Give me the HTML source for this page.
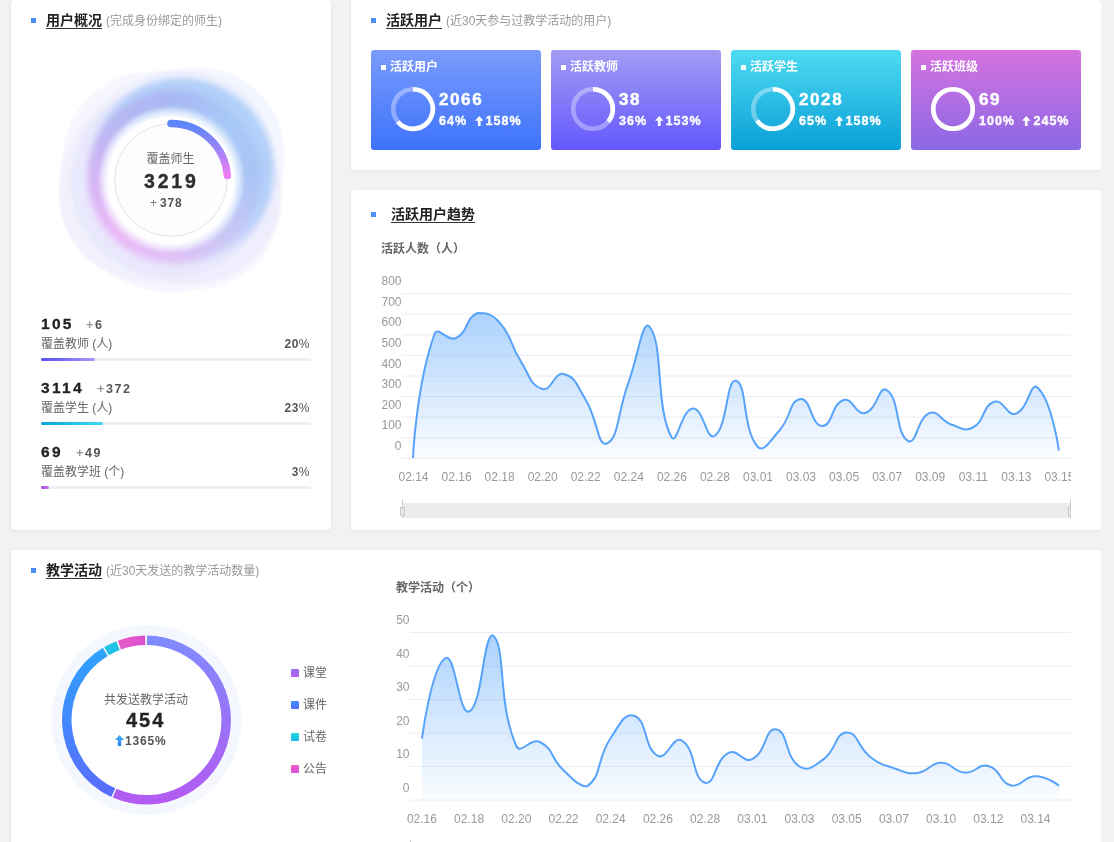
<!DOCTYPE html>
<html lang="zh-CN">
<head>
<meta charset="utf-8">
<title>数据概览</title>
<style>
*{box-sizing:border-box;margin:0;padding:0}
html,body{width:1114px;height:842px;overflow:hidden;background:#f2f2f2}
body{position:relative;font-family:"Liberation Sans","Noto Sans CJK SC",sans-serif;color:#333}
.card{position:absolute;background:#fff;border-radius:4px;box-shadow:0 1px 4px rgba(0,0,0,0.07)}
.abs{position:absolute;white-space:nowrap}
.sq{position:absolute;width:5px;height:5px;background:#4b8ef5}
.ttl{position:absolute;font-size:14px;font-weight:bold;color:#222;line-height:16px;white-space:nowrap}
.ttl b{font-weight:bold;border-bottom:1px solid #333;display:inline-block;line-height:15px;padding-bottom:0}
.ttl span{font-weight:normal;font-size:12px;color:#999;margin-left:4px}
svg text{font-family:"Liberation Sans","Noto Sans CJK SC",sans-serif}
.yl{font-size:12px;fill:#999;text-anchor:end;dominant-baseline:central}
.xl{font-size:12px;fill:#999;text-anchor:middle;dominant-baseline:central}
.num{font-family:"Liberation Sans",sans-serif;font-weight:bold}
.row .n{position:absolute;left:41px;font-size:15.5px;font-weight:bold;letter-spacing:2.3px;color:#222;line-height:16px;-webkit-text-stroke:0.3px #222}
.row .d{position:absolute;font-size:12.5px;font-weight:bold;color:#555;letter-spacing:1.6px;line-height:12px}
.row .d i{font-style:normal;font-weight:bold;color:#999}
.row .l{position:absolute;left:41px;font-size:12px;color:#666;line-height:14px}
.row .p{position:absolute;left:211px;width:99px;text-align:right;font-size:12px;font-weight:bold;color:#555;line-height:14px;letter-spacing:0.5px}
.row .p i{font-style:normal;font-weight:normal}
.row .tr{position:absolute;left:41px;width:270px;height:3px;border-radius:2px;background:#eeeef5}
.row .f{position:absolute;left:0;top:0;height:3px;border-radius:2px}
.sc{position:absolute;top:50px;width:170px;height:100px;border-radius:3px;color:#fff;overflow:hidden}
.sc .dot{position:absolute;left:10px;top:15px;width:5px;height:5px;background:#fff}
.sc .t{position:absolute;left:19px;top:10px;font-size:12px;font-weight:bold;line-height:14px}
.sc svg{position:absolute;left:0;top:0}
.sc .v{position:absolute;left:68px;top:41.8px;font-size:17px;font-weight:bold;letter-spacing:1.6px;line-height:16px;-webkit-text-stroke:0.45px #fff}
.sc .r{position:absolute;left:68px;top:65px;font-size:12.5px;font-weight:bold;letter-spacing:1px;line-height:13px;-webkit-text-stroke:0.35px #fff}
.sc .r .ar{display:inline-block;margin-left:7.5px}
.sc .r .ar svg.up{position:static;display:inline-block;vertical-align:-0.5px;margin-right:2.5px}
.lg{position:absolute;left:291px;font-size:12px;color:#666;line-height:14px}
.lg i{position:absolute;left:0;top:3px;width:8px;height:8px;border-radius:1px}
.lg span{position:absolute;left:12px;top:0;white-space:nowrap}
</style>
</head>
<body>
<div id="wrap" style="position:absolute;left:0;top:0;width:1101px;height:842px;overflow:hidden">

<!-- ========== 用户概况 ========== -->
<div class="card" style="left:11px;top:0;width:320px;height:530px"></div>
<div class="sq" style="left:31px;top:18px"></div>
<div class="ttl" style="left:46px;top:12px"><b>用户概况</b><span>(完成身份绑定的师生)</span></div>

<svg class="abs" style="left:0;top:0" width="340" height="320" viewBox="0 0 340 320">
  <defs>
    <filter id="bl4" x="-50%" y="-50%" width="200%" height="200%"><feGaussianBlur stdDeviation="3.5"/></filter>
    <filter id="bl2" x="-50%" y="-50%" width="200%" height="200%"><feGaussianBlur stdDeviation="1.5"/></filter>
    <filter id="bl1" x="-50%" y="-50%" width="200%" height="200%"><feGaussianBlur stdDeviation="1"/></filter>
    <filter id="bl3" x="-50%" y="-50%" width="200%" height="200%"><feGaussianBlur stdDeviation="3"/></filter>
    <radialGradient id="wc" cx="0.5" cy="0.5" r="0.5">
      <stop offset="0.84" stop-color="#fff" stop-opacity="1"/>
      <stop offset="1" stop-color="#fff" stop-opacity="0"/>
    </radialGradient>
    <linearGradient id="arcg" x1="0" y1="0" x2="0" y2="1">
      <stop offset="0" stop-color="#5a86f7"/>
      <stop offset="0.5" stop-color="#9b84fb"/>
      <stop offset="1" stop-color="#f07ef6"/>
    </linearGradient>
  </defs>
<g filter="url(#bl1)">
<ellipse cx="172" cy="181" rx="118" ry="100" fill="#f6f7fe" transform="rotate(45 172 181)"/>
<circle cx="171" cy="181" r="111" fill="#f5f6fe"/>
<ellipse cx="180" cy="172" rx="112" ry="96" fill="#f3f6fe" transform="rotate(-45 180 172)"/>
<ellipse cx="166" cy="176" rx="114" ry="98" fill="#f0f1fd" transform="rotate(-42 166 176)"/>
<ellipse cx="178" cy="185" rx="106" ry="96" fill="#efeefd" transform="rotate(35 178 185)"/>
<ellipse cx="170" cy="181" rx="99" ry="97" fill="#e7e6fb" opacity="0.75"/>
</g>
<g filter="url(#bl3)">
<defs><linearGradient id="bluel" x1="0.85" y1="0.1" x2="0.25" y2="0.8"><stop offset="0" stop-color="#b0d0f9" stop-opacity="1"/><stop offset="0.45" stop-color="#b0cdf8" stop-opacity="0.9"/><stop offset="1" stop-color="#b0cdf8" stop-opacity="0"/></linearGradient></defs>
<circle cx="181" cy="171" r="93" fill="url(#bluel)"/>
<g opacity="0.95"><path d="M174.00,99.00 A78,78 0 0 1 179.17,99.17" stroke="rgb(168,183,243)" stroke-width="17" fill="none"/><path d="M178.08,99.11 A78,78 0 0 1 183.24,99.55" stroke="rgb(168,184,244)" stroke-width="17" fill="none"/><path d="M182.15,99.43 A78,78 0 0 1 187.28,100.14" stroke="rgb(168,185,244)" stroke-width="17" fill="none"/><path d="M186.20,99.96 A78,78 0 0 1 191.28,100.94" stroke="rgb(168,186,244)" stroke-width="17" fill="none"/><path d="M190.22,100.70 A78,78 0 0 1 195.24,101.95" stroke="rgb(167,187,244)" stroke-width="17" fill="none"/><path d="M194.19,101.66 A78,78 0 0 1 199.14,103.16" stroke="rgb(167,189,245)" stroke-width="17" fill="none"/><path d="M198.10,102.82 A78,78 0 0 1 202.97,104.58" stroke="rgb(167,190,245)" stroke-width="17" fill="none"/><path d="M201.95,104.18 A78,78 0 0 1 206.72,106.19" stroke="rgb(167,191,246)" stroke-width="17" fill="none"/><path d="M205.73,105.74 A78,78 0 0 1 210.38,108.00" stroke="rgb(167,192,246)" stroke-width="17" fill="none"/><path d="M209.41,107.50 A78,78 0 0 1 213.94,110.00" stroke="rgb(167,193,246)" stroke-width="17" fill="none"/><path d="M213.00,109.45 A78,78 0 0 1 217.39,112.18" stroke="rgb(167,195,246)" stroke-width="17" fill="none"/><path d="M216.48,111.58 A78,78 0 0 1 220.72,114.54" stroke="rgb(166,196,247)" stroke-width="17" fill="none"/><path d="M219.85,113.90 A78,78 0 0 1 223.93,117.07" stroke="rgb(166,197,247)" stroke-width="17" fill="none"/><path d="M223.09,116.38 A78,78 0 0 1 227.00,119.77" stroke="rgb(166,198,248)" stroke-width="17" fill="none"/><path d="M226.19,119.03 A78,78 0 0 1 229.92,122.62" stroke="rgb(166,199,248)" stroke-width="17" fill="none"/><path d="M229.15,121.85 A78,78 0 0 1 232.69,125.62" stroke="rgb(166,200,248)" stroke-width="17" fill="none"/><path d="M231.97,124.81 A78,78 0 0 1 235.30,128.76" stroke="rgb(166,200,248)" stroke-width="17" fill="none"/><path d="M234.62,127.91 A78,78 0 0 1 237.74,132.04" stroke="rgb(166,199,248)" stroke-width="17" fill="none"/><path d="M237.10,131.15 A78,78 0 0 1 240.00,135.44" stroke="rgb(167,199,248)" stroke-width="17" fill="none"/><path d="M239.42,134.52 A78,78 0 0 1 242.09,138.95" stroke="rgb(167,198,247)" stroke-width="17" fill="none"/><path d="M241.55,138.00 A78,78 0 0 1 243.99,142.56" stroke="rgb(167,198,247)" stroke-width="17" fill="none"/><path d="M243.50,141.59 A78,78 0 0 1 245.69,146.27" stroke="rgb(167,198,247)" stroke-width="17" fill="none"/><path d="M245.26,145.27 A78,78 0 0 1 247.20,150.07" stroke="rgb(168,198,247)" stroke-width="17" fill="none"/><path d="M246.82,149.05 A78,78 0 0 1 248.51,153.93" stroke="rgb(168,197,247)" stroke-width="17" fill="none"/><path d="M248.18,152.90 A78,78 0 0 1 249.62,157.87" stroke="rgb(168,197,247)" stroke-width="17" fill="none"/><path d="M249.34,156.81 A78,78 0 0 1 250.51,161.85" stroke="rgb(168,196,247)" stroke-width="17" fill="none"/><path d="M250.30,160.78 A78,78 0 0 1 251.20,165.87" stroke="rgb(168,196,246)" stroke-width="17" fill="none"/><path d="M251.04,164.80 A78,78 0 0 1 251.68,169.93" stroke="rgb(168,196,246)" stroke-width="17" fill="none"/><path d="M251.57,168.85 A78,78 0 0 1 251.94,174.01" stroke="rgb(169,196,246)" stroke-width="17" fill="none"/><path d="M251.89,172.92 A78,78 0 0 1 251.99,178.09" stroke="rgb(169,195,246)" stroke-width="17" fill="none"/><path d="M252.00,177.00 A78,78 0 0 1 251.83,182.17" stroke="rgb(170,195,246)" stroke-width="17" fill="none"/><path d="M251.89,181.08 A78,78 0 0 1 251.45,186.24" stroke="rgb(172,195,246)" stroke-width="17" fill="none"/><path d="M251.57,185.15 A78,78 0 0 1 250.86,190.28" stroke="rgb(174,196,246)" stroke-width="17" fill="none"/><path d="M251.04,189.20 A78,78 0 0 1 250.06,194.28" stroke="rgb(176,196,246)" stroke-width="17" fill="none"/><path d="M250.30,193.22 A78,78 0 0 1 249.05,198.24" stroke="rgb(178,196,246)" stroke-width="17" fill="none"/><path d="M249.34,197.19 A78,78 0 0 1 247.84,202.14" stroke="rgb(180,196,246)" stroke-width="17" fill="none"/><path d="M248.18,201.10 A78,78 0 0 1 246.42,205.97" stroke="rgb(182,196,246)" stroke-width="17" fill="none"/><path d="M246.82,204.95 A78,78 0 0 1 244.81,209.72" stroke="rgb(184,196,246)" stroke-width="17" fill="none"/><path d="M245.26,208.73 A78,78 0 0 1 243.00,213.38" stroke="rgb(187,197,245)" stroke-width="17" fill="none"/><path d="M243.50,212.41 A78,78 0 0 1 241.00,216.94" stroke="rgb(189,197,245)" stroke-width="17" fill="none"/><path d="M241.55,216.00 A78,78 0 0 1 238.82,220.39" stroke="rgb(191,197,245)" stroke-width="17" fill="none"/><path d="M239.42,219.48 A78,78 0 0 1 236.46,223.72" stroke="rgb(193,197,245)" stroke-width="17" fill="none"/><path d="M237.10,222.85 A78,78 0 0 1 233.93,226.93" stroke="rgb(195,198,245)" stroke-width="17" fill="none"/><path d="M234.62,226.09 A78,78 0 0 1 231.23,230.00" stroke="rgb(197,198,245)" stroke-width="17" fill="none"/><path d="M231.97,229.19 A78,78 0 0 1 228.38,232.92" stroke="rgb(199,198,245)" stroke-width="17" fill="none"/><path d="M229.15,232.15 A78,78 0 0 1 225.38,235.69" stroke="rgb(201,198,245)" stroke-width="17" fill="none"/><path d="M226.19,234.97 A78,78 0 0 1 222.24,238.30" stroke="rgb(202,197,245)" stroke-width="17" fill="none"/><path d="M223.09,237.62 A78,78 0 0 1 218.96,240.74" stroke="rgb(204,197,245)" stroke-width="17" fill="none"/><path d="M219.85,240.10 A78,78 0 0 1 215.56,243.00" stroke="rgb(206,197,245)" stroke-width="17" fill="none"/><path d="M216.48,242.42 A78,78 0 0 1 212.05,245.09" stroke="rgb(207,196,246)" stroke-width="17" fill="none"/><path d="M213.00,244.55 A78,78 0 0 1 208.44,246.99" stroke="rgb(209,196,246)" stroke-width="17" fill="none"/><path d="M209.41,246.50 A78,78 0 0 1 204.73,248.69" stroke="rgb(210,195,246)" stroke-width="17" fill="none"/><path d="M205.73,248.26 A78,78 0 0 1 200.93,250.20" stroke="rgb(212,195,246)" stroke-width="17" fill="none"/><path d="M201.95,249.82 A78,78 0 0 1 197.07,251.51" stroke="rgb(214,195,246)" stroke-width="17" fill="none"/><path d="M198.10,251.18 A78,78 0 0 1 193.13,252.62" stroke="rgb(215,194,246)" stroke-width="17" fill="none"/><path d="M194.19,252.34 A78,78 0 0 1 189.15,253.51" stroke="rgb(217,194,246)" stroke-width="17" fill="none"/><path d="M190.22,253.30 A78,78 0 0 1 185.13,254.20" stroke="rgb(218,193,247)" stroke-width="17" fill="none"/><path d="M186.20,254.04 A78,78 0 0 1 181.07,254.68" stroke="rgb(220,193,247)" stroke-width="17" fill="none"/><path d="M182.15,254.57 A78,78 0 0 1 176.99,254.94" stroke="rgb(222,193,247)" stroke-width="17" fill="none"/><path d="M178.08,254.89 A78,78 0 0 1 172.91,254.99" stroke="rgb(223,192,247)" stroke-width="17" fill="none"/><path d="M174.00,255.00 A78,78 0 0 1 168.83,254.83" stroke="rgb(224,192,247)" stroke-width="17" fill="none"/><path d="M169.92,254.89 A78,78 0 0 1 164.76,254.45" stroke="rgb(225,191,247)" stroke-width="17" fill="none"/><path d="M165.85,254.57 A78,78 0 0 1 160.72,253.86" stroke="rgb(226,191,247)" stroke-width="17" fill="none"/><path d="M161.80,254.04 A78,78 0 0 1 156.72,253.06" stroke="rgb(227,190,247)" stroke-width="17" fill="none"/><path d="M157.78,253.30 A78,78 0 0 1 152.76,252.05" stroke="rgb(227,190,247)" stroke-width="17" fill="none"/><path d="M153.81,252.34 A78,78 0 0 1 148.86,250.84" stroke="rgb(228,189,247)" stroke-width="17" fill="none"/><path d="M149.90,251.18 A78,78 0 0 1 145.03,249.42" stroke="rgb(229,189,247)" stroke-width="17" fill="none"/><path d="M146.05,249.82 A78,78 0 0 1 141.28,247.81" stroke="rgb(230,188,247)" stroke-width="17" fill="none"/><path d="M142.27,248.26 A78,78 0 0 1 137.62,246.00" stroke="rgb(230,187,247)" stroke-width="17" fill="none"/><path d="M138.59,246.50 A78,78 0 0 1 134.06,244.00" stroke="rgb(231,187,247)" stroke-width="17" fill="none"/><path d="M135.00,244.55 A78,78 0 0 1 130.61,241.82" stroke="rgb(232,186,247)" stroke-width="17" fill="none"/><path d="M131.52,242.42 A78,78 0 0 1 127.28,239.46" stroke="rgb(232,186,247)" stroke-width="17" fill="none"/><path d="M128.15,240.10 A78,78 0 0 1 124.07,236.93" stroke="rgb(233,185,247)" stroke-width="17" fill="none"/><path d="M124.91,237.62 A78,78 0 0 1 121.00,234.23" stroke="rgb(234,185,247)" stroke-width="17" fill="none"/><path d="M121.81,234.97 A78,78 0 0 1 118.08,231.38" stroke="rgb(235,184,247)" stroke-width="17" fill="none"/><path d="M118.85,232.15 A78,78 0 0 1 115.31,228.38" stroke="rgb(234,184,247)" stroke-width="17" fill="none"/><path d="M116.03,229.19 A78,78 0 0 1 112.70,225.24" stroke="rgb(233,184,247)" stroke-width="17" fill="none"/><path d="M113.38,226.09 A78,78 0 0 1 110.26,221.96" stroke="rgb(231,183,247)" stroke-width="17" fill="none"/><path d="M110.90,222.85 A78,78 0 0 1 108.00,218.56" stroke="rgb(230,183,247)" stroke-width="17" fill="none"/><path d="M108.58,219.48 A78,78 0 0 1 105.91,215.05" stroke="rgb(228,182,246)" stroke-width="17" fill="none"/><path d="M106.45,216.00 A78,78 0 0 1 104.01,211.44" stroke="rgb(227,182,246)" stroke-width="17" fill="none"/><path d="M104.50,212.41 A78,78 0 0 1 102.31,207.73" stroke="rgb(225,182,246)" stroke-width="17" fill="none"/><path d="M102.74,208.73 A78,78 0 0 1 100.80,203.93" stroke="rgb(224,182,246)" stroke-width="17" fill="none"/><path d="M101.18,204.95 A78,78 0 0 1 99.49,200.07" stroke="rgb(222,181,246)" stroke-width="17" fill="none"/><path d="M99.82,201.10 A78,78 0 0 1 98.38,196.13" stroke="rgb(220,181,246)" stroke-width="17" fill="none"/><path d="M98.66,197.19 A78,78 0 0 1 97.49,192.15" stroke="rgb(219,180,246)" stroke-width="17" fill="none"/><path d="M97.70,193.22 A78,78 0 0 1 96.80,188.13" stroke="rgb(217,180,245)" stroke-width="17" fill="none"/><path d="M96.96,189.20 A78,78 0 0 1 96.32,184.07" stroke="rgb(216,180,245)" stroke-width="17" fill="none"/><path d="M96.43,185.15 A78,78 0 0 1 96.06,179.99" stroke="rgb(214,180,245)" stroke-width="17" fill="none"/><path d="M96.11,181.08 A78,78 0 0 1 96.01,175.91" stroke="rgb(213,179,245)" stroke-width="17" fill="none"/><path d="M96.00,177.00 A78,78 0 0 1 96.17,171.83" stroke="rgb(211,179,245)" stroke-width="17" fill="none"/><path d="M96.11,172.92 A78,78 0 0 1 96.55,167.76" stroke="rgb(209,179,245)" stroke-width="17" fill="none"/><path d="M96.43,168.85 A78,78 0 0 1 97.14,163.72" stroke="rgb(207,179,244)" stroke-width="17" fill="none"/><path d="M96.96,164.80 A78,78 0 0 1 97.94,159.72" stroke="rgb(205,179,244)" stroke-width="17" fill="none"/><path d="M97.70,160.78 A78,78 0 0 1 98.95,155.76" stroke="rgb(203,180,244)" stroke-width="17" fill="none"/><path d="M98.66,156.81 A78,78 0 0 1 100.16,151.86" stroke="rgb(201,180,244)" stroke-width="17" fill="none"/><path d="M99.82,152.90 A78,78 0 0 1 101.58,148.03" stroke="rgb(199,180,244)" stroke-width="17" fill="none"/><path d="M101.18,149.05 A78,78 0 0 1 103.19,144.28" stroke="rgb(197,180,244)" stroke-width="17" fill="none"/><path d="M102.74,145.27 A78,78 0 0 1 105.00,140.62" stroke="rgb(195,180,243)" stroke-width="17" fill="none"/><path d="M104.50,141.59 A78,78 0 0 1 107.00,137.06" stroke="rgb(193,180,243)" stroke-width="17" fill="none"/><path d="M106.45,138.00 A78,78 0 0 1 109.18,133.61" stroke="rgb(191,180,243)" stroke-width="17" fill="none"/><path d="M108.58,134.52 A78,78 0 0 1 111.54,130.28" stroke="rgb(189,181,243)" stroke-width="17" fill="none"/><path d="M110.90,131.15 A78,78 0 0 1 114.07,127.07" stroke="rgb(187,181,242)" stroke-width="17" fill="none"/><path d="M113.38,127.91 A78,78 0 0 1 116.77,124.00" stroke="rgb(185,181,242)" stroke-width="17" fill="none"/><path d="M116.03,124.81 A78,78 0 0 1 119.62,121.08" stroke="rgb(183,181,242)" stroke-width="17" fill="none"/><path d="M118.85,121.85 A78,78 0 0 1 122.62,118.31" stroke="rgb(182,181,242)" stroke-width="17" fill="none"/><path d="M121.81,119.03 A78,78 0 0 1 125.76,115.70" stroke="rgb(181,181,242)" stroke-width="17" fill="none"/><path d="M124.91,116.38 A78,78 0 0 1 129.04,113.26" stroke="rgb(180,181,242)" stroke-width="17" fill="none"/><path d="M128.15,113.90 A78,78 0 0 1 132.44,111.00" stroke="rgb(179,181,242)" stroke-width="17" fill="none"/><path d="M131.52,111.58 A78,78 0 0 1 135.95,108.91" stroke="rgb(178,181,242)" stroke-width="17" fill="none"/><path d="M135.00,109.45 A78,78 0 0 1 139.56,107.01" stroke="rgb(177,181,242)" stroke-width="17" fill="none"/><path d="M138.59,107.50 A78,78 0 0 1 143.27,105.31" stroke="rgb(176,181,242)" stroke-width="17" fill="none"/><path d="M142.27,105.74 A78,78 0 0 1 147.07,103.80" stroke="rgb(175,182,242)" stroke-width="17" fill="none"/><path d="M146.05,104.18 A78,78 0 0 1 150.93,102.49" stroke="rgb(174,182,243)" stroke-width="17" fill="none"/><path d="M149.90,102.82 A78,78 0 0 1 154.87,101.38" stroke="rgb(173,182,243)" stroke-width="17" fill="none"/><path d="M153.81,101.66 A78,78 0 0 1 158.85,100.49" stroke="rgb(172,182,243)" stroke-width="17" fill="none"/><path d="M157.78,100.70 A78,78 0 0 1 162.87,99.80" stroke="rgb(171,182,243)" stroke-width="17" fill="none"/><path d="M161.80,99.96 A78,78 0 0 1 166.93,99.32" stroke="rgb(170,182,243)" stroke-width="17" fill="none"/><path d="M165.85,99.43 A78,78 0 0 1 171.01,99.06" stroke="rgb(169,182,243)" stroke-width="17" fill="none"/><path d="M169.92,99.11 A78,78 0 0 1 175.09,99.01" stroke="rgb(168,182,243)" stroke-width="17" fill="none"/></g>
</g>
  <!-- white core -->
  <circle cx="171" cy="180" r="74" fill="url(#wc)"/>
  <circle cx="171" cy="180" r="56.3" fill="#fdfdfd" stroke="#dcdce4" stroke-width="0.8"/>
  <path d="M171,123.5 A56.5,56.5 0 0 1 227.3,175.5" fill="none" stroke="url(#arcg)" stroke-width="7.5" stroke-linecap="round"/>
</svg>
<div class="abs" style="left:146.5px;top:150.5px;font-size:12px;color:#666;line-height:16px">覆盖师生</div>
<div class="abs num" style="left:144px;top:171px;font-size:19.5px;letter-spacing:2.8px;color:#2e2e2e;line-height:20px;-webkit-text-stroke:0.35px #2e2e2e">3219</div>
<div class="abs num" style="left:150px;top:197px;font-size:12px;letter-spacing:0.9px;color:#555;line-height:13px"><span style="font-weight:normal;margin-right:2px;color:#777">+</span>378</div>

<div class="row">
  <div class="n" style="top:316px">105</div><div class="d" style="left:86px;top:319px"><i>+</i>6</div>
  <div class="l" style="top:337px">覆盖教师 (人)</div><div class="p" style="top:337px">20<i>%</i></div>
  <div class="tr" style="top:358px"><div class="f" style="width:54px;background:linear-gradient(90deg,#5a4cf4,#a29af8)"></div></div>
</div>
<div class="row">
  <div class="n" style="top:380px">3114</div><div class="d" style="left:97px;top:383px"><i>+</i>372</div>
  <div class="l" style="top:401px">覆盖学生 (人)</div><div class="p" style="top:401px">23<i>%</i></div>
  <div class="tr" style="top:422px"><div class="f" style="width:62px;background:linear-gradient(90deg,#0ca5d6,#3fdaf0)"></div></div>
</div>
<div class="row">
  <div class="n" style="top:444px">69</div><div class="d" style="left:76px;top:447px"><i>+</i>49</div>
  <div class="l" style="top:465px">覆盖教学班 (个)</div><div class="p" style="top:465px">3<i>%</i></div>
  <div class="tr" style="top:486px"><div class="f" style="width:8px;background:linear-gradient(90deg,#a346e2,#cc74f2)"></div></div>
</div>

<!-- ========== 活跃用户 ========== -->
<div class="card" style="left:351px;top:0;width:750px;height:170px"></div>
<div class="sq" style="left:371px;top:18px"></div>
<div class="ttl" style="left:386px;top:12px"><b>活跃用户</b><span>(近30天参与过教学活动的用户)</span></div>

<div class="sc" style="left:371px;background:linear-gradient(180deg,#7b9bfc,#3d73fb)">
  <div class="dot"></div><div class="t">活跃用户</div>
  <svg width="170" height="100">%<circle cx="42" cy="59" r="19.8" fill="none" stroke="rgba(255,255,255,0.35)" stroke-width="4.6"/><path d="M42.00,39.20 A19.80,19.80 0 1 1 26.74,71.62" fill="none" stroke="#fff" stroke-width="4.6"/>%</svg>
  <div class="v num">2066</div>
  <div class="r num">64%<span class="ar"><svg class="up" width="8.5" height="10" viewBox="0 0 8.5 10"><path d="M4.25,0 L8.5,4.7 L5.6,4.7 L5.6,10 L2.9,10 L2.9,4.7 L0,4.7 Z" fill="#fff"/></svg>158%</span></div>
</div>
<div class="sc" style="left:551px;background:linear-gradient(180deg,#a29cf4,#6458fd)">
  <div class="dot"></div><div class="t">活跃教师</div>
  <svg width="170" height="100">%<circle cx="42" cy="59" r="19.8" fill="none" stroke="rgba(255,255,255,0.35)" stroke-width="4.6"/><path d="M42.00,39.20 A19.80,19.80 0 0 1 57.26,71.62" fill="none" stroke="#fff" stroke-width="4.6"/>%</svg>
  <div class="v num">38</div>
  <div class="r num">36%<span class="ar"><svg class="up" width="8.5" height="10" viewBox="0 0 8.5 10"><path d="M4.25,0 L8.5,4.7 L5.6,4.7 L5.6,10 L2.9,10 L2.9,4.7 L0,4.7 Z" fill="#fff"/></svg>153%</span></div>
</div>
<div class="sc" style="left:731px;background:linear-gradient(180deg,#4edbf2,#0a9fd7)">
  <div class="dot"></div><div class="t">活跃学生</div>
  <svg width="170" height="100">%<circle cx="42" cy="59" r="19.8" fill="none" stroke="rgba(255,255,255,0.35)" stroke-width="4.6"/><path d="M42.00,39.20 A19.80,19.80 0 1 1 25.98,70.64" fill="none" stroke="#fff" stroke-width="4.6"/>%</svg>
  <div class="v num">2028</div>
  <div class="r num">65%<span class="ar"><svg class="up" width="8.5" height="10" viewBox="0 0 8.5 10"><path d="M4.25,0 L8.5,4.7 L5.6,4.7 L5.6,10 L2.9,10 L2.9,4.7 L0,4.7 Z" fill="#fff"/></svg>158%</span></div>
</div>
<div class="sc" style="left:911px;background:linear-gradient(180deg,#d672df,#8b68e6)">
  <div class="dot"></div><div class="t">活跃班级</div>
  <svg width="170" height="100">%<circle cx="42" cy="59" r="19.8" fill="none" stroke="rgba(255,255,255,0.35)" stroke-width="4.6"/><circle cx="42" cy="59" r="19.8" fill="none" stroke="#fff" stroke-width="4.6"/>%</svg>
  <div class="v num">69</div>
  <div class="r num">100%<span class="ar"><svg class="up" width="8.5" height="10" viewBox="0 0 8.5 10"><path d="M4.25,0 L8.5,4.7 L5.6,4.7 L5.6,10 L2.9,10 L2.9,4.7 L0,4.7 Z" fill="#fff"/></svg>245%</span></div>
</div>

<!-- ========== 活跃用户趋势 ========== -->
<div class="card" style="left:351px;top:190px;width:750px;height:340px"></div>
<div class="sq" style="left:371px;top:212px"></div>
<div class="ttl" style="left:391px;top:206px"><b>活跃用户趋势</b></div>
<div class="abs" style="left:381px;top:242px;font-size:12px;font-weight:bold;color:#666;line-height:14px">活跃人数（人）</div>

<!-- ========== 教学活动 ========== -->
<div class="card" style="left:11px;top:550px;width:1090px;height:300px"></div>
<div class="sq" style="left:31px;top:568px"></div>
<div class="ttl" style="left:46px;top:562px"><b>教学活动</b><span>(近30天发送的教学活动数量)</span></div>
<div class="abs" style="left:396px;top:581px;font-size:12px;font-weight:bold;color:#666;line-height:14px">教学活动（个）</div>

<svg class="abs" style="left:0;top:0" width="1114" height="842" viewBox="0 0 1114 842">
  <defs>
    <linearGradient id="gk1" x1="0" y1="0" x2="0" y2="1"><stop offset="0" stop-color="#7f8bff"/><stop offset="1" stop-color="#b45af2"/></linearGradient>
    <linearGradient id="gk2" x1="0" y1="1" x2="0" y2="0"><stop offset="0" stop-color="#5a6cfd"/><stop offset="1" stop-color="#2ea3fd"/></linearGradient>
    <linearGradient id="gk3" x1="0" y1="0" x2="0" y2="1"><stop offset="0" stop-color="#25c8e4"/><stop offset="1" stop-color="#1bbce8"/></linearGradient>
    <linearGradient id="gk4" x1="0" y1="0" x2="1" y2="0"><stop offset="0" stop-color="#e75dc6"/><stop offset="1" stop-color="#dc4fd1"/></linearGradient>
  </defs>
  <circle cx="146.5" cy="720" r="95" fill="#f4f7fe"/>
  <circle cx="146.5" cy="720.1" r="85" fill="#fff"/>
  <path d="M146.94,635.60 A84.5,84.5 0 1 1 112.67,797.53 L116.47,788.83 A75,75 0 1 0 146.89,645.10 Z" fill="url(#gk1)"/>
<path d="M111.32,796.93 A84.5,84.5 0 0 1 102.85,647.75 L107.76,655.88 A75,75 0 0 0 115.28,788.29 Z" fill="url(#gk2)"/>
<path d="M104.12,646.99 A84.5,84.5 0 0 1 116.36,641.16 L119.74,650.03 A75,75 0 0 0 108.89,655.21 Z" fill="url(#gk3)"/>
<path d="M117.74,640.65 A84.5,84.5 0 0 1 145.17,635.61 L145.32,645.11 A75,75 0 0 0 120.97,649.58 Z" fill="url(#gk4)"/>
  <defs><linearGradient id="g1" x1="0" y1="0" x2="0" y2="1"><stop offset="0" stop-color="#5aa5fa" stop-opacity="0.5"/><stop offset="1" stop-color="#5aa5fa" stop-opacity="0.03"/></linearGradient>
<clipPath id="g1c"><rect x="0" y="0" width="1071" height="842"/></clipPath></defs>
<line x1="402" y1="293.5" x2="1071" y2="293.5" stroke="#ececf4" stroke-width="1"/>
<line x1="402" y1="314.1" x2="1071" y2="314.1" stroke="#ececf4" stroke-width="1"/>
<line x1="402" y1="334.8" x2="1071" y2="334.8" stroke="#ececf4" stroke-width="1"/>
<line x1="402" y1="355.4" x2="1071" y2="355.4" stroke="#ececf4" stroke-width="1"/>
<line x1="402" y1="376.0" x2="1071" y2="376.0" stroke="#ececf4" stroke-width="1"/>
<line x1="402" y1="396.6" x2="1071" y2="396.6" stroke="#ececf4" stroke-width="1"/>
<line x1="402" y1="417.2" x2="1071" y2="417.2" stroke="#ececf4" stroke-width="1"/>
<line x1="402" y1="437.9" x2="1071" y2="437.9" stroke="#ececf4" stroke-width="1"/>
<line x1="402" y1="458.5" x2="1071" y2="458.5" stroke="#ececf4" stroke-width="1"/>
<path d="M413.00,458.00 C413.00,458.00 416.19,385.11 434.53,334.00 C437.72,325.11 447.47,342.19 456.06,338.00 C469.00,331.69 464.98,317.69 477.59,313.00 C486.51,313.00 491.72,313.75 499.12,322.00 C513.25,337.75 508.64,342.31 520.65,361.00 C530.17,375.81 529.83,385.27 542.18,389.00 C551.36,391.77 554.17,371.79 563.71,374.00 C575.70,376.79 576.62,385.09 585.24,399.00 C598.15,419.84 597.41,446.98 606.77,443.50 C618.94,438.98 617.17,413.11 628.30,383.00 C638.70,354.86 642.32,317.59 649.83,327.00 C663.85,344.59 655.04,406.15 671.36,437.00 C676.57,446.85 682.00,408.65 692.89,408.40 C703.53,408.15 706.42,441.13 714.42,436.00 C727.95,427.33 726.01,378.38 735.95,380.80 C747.54,383.63 741.92,428.36 757.48,446.50 C763.45,453.46 770.24,440.68 779.01,431.00 C791.77,416.93 789.18,400.32 800.54,399.00 C810.71,397.82 811.18,425.75 822.07,426.00 C832.71,426.25 831.26,403.72 843.60,400.00 C852.79,397.22 855.57,415.22 865.13,413.00 C877.10,410.22 878.85,384.92 886.66,390.00 C900.38,398.92 895.05,433.98 908.19,441.00 C916.58,445.48 916.99,417.88 929.72,413.00 C938.52,409.63 939.86,420.67 951.25,424.50 C961.39,427.92 964.32,431.98 972.78,427.50 C985.85,420.58 981.89,405.68 994.31,401.70 C1003.42,398.78 1006.78,416.69 1015.84,413.70 C1028.31,409.59 1030.10,381.29 1037.37,387.50 C1051.63,399.69 1058.90,450.50 1058.90,450.50 L1058.90,458.50 L413.00,458.50 Z" fill="url(#g1)"/>
<path d="M413.00,458.00 C413.00,458.00 416.19,385.11 434.53,334.00 C437.72,325.11 447.47,342.19 456.06,338.00 C469.00,331.69 464.98,317.69 477.59,313.00 C486.51,313.00 491.72,313.75 499.12,322.00 C513.25,337.75 508.64,342.31 520.65,361.00 C530.17,375.81 529.83,385.27 542.18,389.00 C551.36,391.77 554.17,371.79 563.71,374.00 C575.70,376.79 576.62,385.09 585.24,399.00 C598.15,419.84 597.41,446.98 606.77,443.50 C618.94,438.98 617.17,413.11 628.30,383.00 C638.70,354.86 642.32,317.59 649.83,327.00 C663.85,344.59 655.04,406.15 671.36,437.00 C676.57,446.85 682.00,408.65 692.89,408.40 C703.53,408.15 706.42,441.13 714.42,436.00 C727.95,427.33 726.01,378.38 735.95,380.80 C747.54,383.63 741.92,428.36 757.48,446.50 C763.45,453.46 770.24,440.68 779.01,431.00 C791.77,416.93 789.18,400.32 800.54,399.00 C810.71,397.82 811.18,425.75 822.07,426.00 C832.71,426.25 831.26,403.72 843.60,400.00 C852.79,397.22 855.57,415.22 865.13,413.00 C877.10,410.22 878.85,384.92 886.66,390.00 C900.38,398.92 895.05,433.98 908.19,441.00 C916.58,445.48 916.99,417.88 929.72,413.00 C938.52,409.63 939.86,420.67 951.25,424.50 C961.39,427.92 964.32,431.98 972.78,427.50 C985.85,420.58 981.89,405.68 994.31,401.70 C1003.42,398.78 1006.78,416.69 1015.84,413.70 C1028.31,409.59 1030.10,381.29 1037.37,387.50 C1051.63,399.69 1058.90,450.50 1058.90,450.50" fill="none" stroke="#58a3fa" stroke-width="2" stroke-linejoin="round"/>
<text x="401.5" y="281.0" class="yl">800</text>
<text x="401.5" y="301.6" class="yl">700</text>
<text x="401.5" y="322.2" class="yl">600</text>
<text x="401.5" y="342.9" class="yl">500</text>
<text x="401.5" y="363.5" class="yl">400</text>
<text x="401.5" y="384.1" class="yl">300</text>
<text x="401.5" y="404.8" class="yl">200</text>
<text x="401.5" y="425.4" class="yl">100</text>
<text x="401.5" y="446.0" class="yl">0</text>
<g clip-path="url(#g1c)">
<text x="413.5" y="476.5" class="xl">02.14</text>
<text x="456.6" y="476.5" class="xl">02.16</text>
<text x="499.6" y="476.5" class="xl">02.18</text>
<text x="542.7" y="476.5" class="xl">02.20</text>
<text x="585.7" y="476.5" class="xl">02.22</text>
<text x="628.8" y="476.5" class="xl">02.24</text>
<text x="671.9" y="476.5" class="xl">02.26</text>
<text x="714.9" y="476.5" class="xl">02.28</text>
<text x="758.0" y="476.5" class="xl">03.01</text>
<text x="801.0" y="476.5" class="xl">03.03</text>
<text x="844.1" y="476.5" class="xl">03.05</text>
<text x="887.2" y="476.5" class="xl">03.07</text>
<text x="930.2" y="476.5" class="xl">03.09</text>
<text x="973.3" y="476.5" class="xl">03.11</text>
<text x="1016.3" y="476.5" class="xl">03.13</text>
<text x="1059.4" y="476.5" class="xl">03.15</text>
</g>
  <defs><linearGradient id="g2" x1="0" y1="0" x2="0" y2="1"><stop offset="0" stop-color="#5aa5fa" stop-opacity="0.5"/><stop offset="1" stop-color="#5aa5fa" stop-opacity="0.03"/></linearGradient>
<clipPath id="g2c"><rect x="0" y="0" width="1071" height="842"/></clipPath></defs>
<line x1="410" y1="632.5" x2="1071" y2="632.5" stroke="#ececf4" stroke-width="1"/>
<line x1="410" y1="666.0" x2="1071" y2="666.0" stroke="#ececf4" stroke-width="1"/>
<line x1="410" y1="699.5" x2="1071" y2="699.5" stroke="#ececf4" stroke-width="1"/>
<line x1="410" y1="733.0" x2="1071" y2="733.0" stroke="#ececf4" stroke-width="1"/>
<line x1="410" y1="766.5" x2="1071" y2="766.5" stroke="#ececf4" stroke-width="1"/>
<line x1="410" y1="800.0" x2="1071" y2="800.0" stroke="#ececf4" stroke-width="1"/>
<path d="M421.90,738.70 C421.90,738.70 431.58,666.02 445.50,658.00 C455.18,652.42 459.12,716.30 469.10,711.50 C482.72,704.95 482.94,635.30 492.70,635.30 C506.54,645.42 496.82,701.96 516.30,746.00 C520.42,755.31 530.61,737.22 539.90,742.00 C554.21,749.37 550.19,757.81 563.50,770.30 C573.79,779.96 578.92,786.30 587.10,786.30 C602.52,775.75 595.98,759.99 610.70,738.00 C619.58,724.74 624.60,712.14 634.30,715.80 C648.20,721.04 643.21,748.14 657.90,755.80 C666.81,760.44 672.82,735.45 681.50,740.40 C696.42,748.90 691.89,779.23 705.10,782.70 C715.49,785.43 714.33,759.96 728.70,752.80 C737.93,748.21 743.07,763.79 752.30,759.20 C766.67,752.04 764.96,727.61 775.90,729.30 C788.56,731.26 784.35,756.78 799.50,766.50 C807.95,771.93 813.51,766.51 823.10,759.60 C837.11,749.51 834.58,733.17 846.70,732.50 C858.18,731.87 856.95,746.90 870.30,757.00 C880.55,764.75 881.62,764.06 893.90,768.20 C905.22,772.01 906.08,774.21 917.50,772.90 C929.68,771.51 929.27,762.88 941.10,762.80 C952.87,762.73 952.65,771.78 964.70,772.60 C976.25,773.38 977.83,763.09 988.30,766.00 C1001.43,769.64 998.98,782.88 1011.90,785.70 C1022.58,786.30 1023.70,776.30 1035.50,776.30 C1047.30,776.30 1059.10,785.70 1059.10,785.70 L1059.10,800.00 L421.90,800.00 Z" fill="url(#g2)"/>
<path d="M421.90,738.70 C421.90,738.70 431.58,666.02 445.50,658.00 C455.18,652.42 459.12,716.30 469.10,711.50 C482.72,704.95 482.94,635.30 492.70,635.30 C506.54,645.42 496.82,701.96 516.30,746.00 C520.42,755.31 530.61,737.22 539.90,742.00 C554.21,749.37 550.19,757.81 563.50,770.30 C573.79,779.96 578.92,786.30 587.10,786.30 C602.52,775.75 595.98,759.99 610.70,738.00 C619.58,724.74 624.60,712.14 634.30,715.80 C648.20,721.04 643.21,748.14 657.90,755.80 C666.81,760.44 672.82,735.45 681.50,740.40 C696.42,748.90 691.89,779.23 705.10,782.70 C715.49,785.43 714.33,759.96 728.70,752.80 C737.93,748.21 743.07,763.79 752.30,759.20 C766.67,752.04 764.96,727.61 775.90,729.30 C788.56,731.26 784.35,756.78 799.50,766.50 C807.95,771.93 813.51,766.51 823.10,759.60 C837.11,749.51 834.58,733.17 846.70,732.50 C858.18,731.87 856.95,746.90 870.30,757.00 C880.55,764.75 881.62,764.06 893.90,768.20 C905.22,772.01 906.08,774.21 917.50,772.90 C929.68,771.51 929.27,762.88 941.10,762.80 C952.87,762.73 952.65,771.78 964.70,772.60 C976.25,773.38 977.83,763.09 988.30,766.00 C1001.43,769.64 998.98,782.88 1011.90,785.70 C1022.58,786.30 1023.70,776.30 1035.50,776.30 C1047.30,776.30 1059.10,785.70 1059.10,785.70" fill="none" stroke="#58a3fa" stroke-width="2" stroke-linejoin="round"/>
<text x="409.5" y="620.0" class="yl">50</text>
<text x="409.5" y="653.5" class="yl">40</text>
<text x="409.5" y="687.0" class="yl">30</text>
<text x="409.5" y="720.5" class="yl">20</text>
<text x="409.5" y="754.0" class="yl">10</text>
<text x="409.5" y="787.5" class="yl">0</text>
<g clip-path="url(#g2c)">
<text x="421.9" y="818.7" class="xl">02.16</text>
<text x="469.1" y="818.7" class="xl">02.18</text>
<text x="516.3" y="818.7" class="xl">02.20</text>
<text x="563.5" y="818.7" class="xl">02.22</text>
<text x="610.7" y="818.7" class="xl">02.24</text>
<text x="657.9" y="818.7" class="xl">02.26</text>
<text x="705.1" y="818.7" class="xl">02.28</text>
<text x="752.3" y="818.7" class="xl">03.01</text>
<text x="799.5" y="818.7" class="xl">03.03</text>
<text x="846.7" y="818.7" class="xl">03.05</text>
<text x="893.9" y="818.7" class="xl">03.07</text>
<text x="941.1" y="818.7" class="xl">03.10</text>
<text x="988.3" y="818.7" class="xl">03.12</text>
<text x="1035.5" y="818.7" class="xl">03.14</text>
</g>
  <!-- datazoom slider -->
  <rect x="402" y="503" width="669" height="15" fill="#ececec"/>
  <line x1="402.5" y1="499.5" x2="402.5" y2="518" stroke="#c8c8c8" stroke-width="1"/>
  <rect x="400.5" y="507.5" width="4" height="8" fill="#e8e8e8" stroke="#c0c0c0" stroke-width="0.8"/>
  <line x1="1070.5" y1="499.5" x2="1070.5" y2="518" stroke="#c8c8c8" stroke-width="1"/>
  <rect x="1068.5" y="507.5" width="2.5" height="8" fill="#e8e8e8" stroke="#c0c0c0" stroke-width="0.8" clip-path="url(#g1c)"/>
  <line x1="410.5" y1="839.5" x2="410.5" y2="842" stroke="#d0d0d0" stroke-width="1"/>
</svg>

<div class="abs" style="left:104px;top:693px;font-size:12px;color:#666;line-height:14px">共发送教学活动</div>
<div class="abs num" style="left:126px;top:710px;font-size:20px;letter-spacing:2px;color:#222;-webkit-text-stroke:0.3px #222;line-height:20px">454</div>
<div class="abs num" style="left:115px;top:735px;font-size:12px;letter-spacing:0.8px;color:#555;line-height:13px"><svg width="9" height="11" viewBox="0 0 9 11" style="vertical-align:-1px;margin-right:1px"><defs><linearGradient id="ba" x1="0" y1="0" x2="0" y2="1"><stop offset="0" stop-color="#47b4fb"/><stop offset="1" stop-color="#2a7ef0"/></linearGradient></defs><path d="M4.5,0 L9,5 L6.2,5 L6.2,11 L2.8,11 L2.8,5 L0,5 Z" fill="url(#ba)"/></svg>1365%</div>

<div class="lg" style="top:666px"><i style="background:linear-gradient(180deg,#9a6ef6,#b45cf0)"></i><span>课堂</span></div>
<div class="lg" style="top:698px"><i style="background:linear-gradient(180deg,#3d8ffc,#5070fc)"></i><span>课件</span></div>
<div class="lg" style="top:730px"><i style="background:linear-gradient(180deg,#2dd8e0,#15b6f0)"></i><span>试卷</span></div>
<div class="lg" style="top:762px"><i style="background:linear-gradient(180deg,#f25ec0,#d84fd9)"></i><span>公告</span></div>

</div>
</body>
</html>
